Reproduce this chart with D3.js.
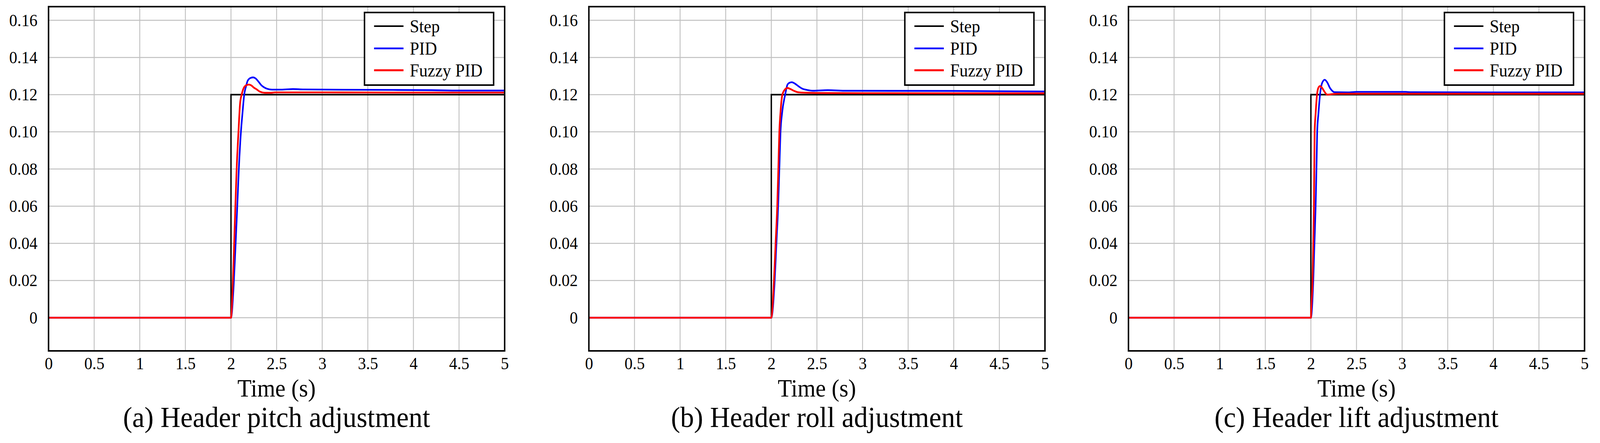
<!DOCTYPE html>
<html>
<head>
<meta charset="utf-8">
<script src="https://cdn.jsdelivr.net/npm/d3@7/dist/d3.min.js"></script>
<style>
  html, body { margin: 0; padding: 0; background: #fff; overflow: hidden; }
  svg { display: block; }
  svg text { font-family: "Liberation Serif", "Times New Roman", serif; fill: #000; }
</style>
</head>
<body>
<script>
// values
const captions = [
  "(a) Header pitch adjustment",
  "(b) Header roll adjustment",
  "(c) Header lift adjustment",
];
const seriesNames = ["Step", "PID", "Fuzzy PID"];
const seriesColors = ["#000000", "#0000ff", "#ff0000"];

const xTicks = [0, 0.5, 1, 1.5, 2, 2.5, 3, 3.5, 4, 4.5, 5];
const xTickLabels = ["0", "0.5", "1", "1.5", "2", "2.5", "3", "3.5", "4", "4.5", "5"];
const yTicks = [0, 0.02, 0.04, 0.06, 0.08, 0.1, 0.12, 0.14, 0.16];
const yTickLabels = ["0", "0.02", "0.04", "0.06", "0.08", "0.10", "0.12", "0.14", "0.16"];

// step input (same in all three)
const stepTime = [0, 2, 2, 5];
const stepValue = [0, 0, 0.12, 0.12];

// (a) pitch
const pidTimeA = [0, 2, 2.032, 2.051, 2.069, 2.086, 2.109, 2.126, 2.145, 2.165, 2.183, 2.21, 2.242, 2.27, 2.3, 2.33, 2.36, 2.4, 2.45, 2.55, 2.68, 2.8, 3.5, 4.2, 4.5, 5];
const pidValueA = [0, 0, 0.02, 0.04, 0.06, 0.08, 0.1, 0.11, 0.12, 0.1245, 0.1275, 0.1289, 0.1293, 0.1287, 0.1271, 0.1252, 0.124, 0.1231, 0.1227, 0.1227, 0.123, 0.1228, 0.1226, 0.1224, 0.1222, 0.1222];
const fuzzyTimeA = [0, 2, 2.021, 2.035, 2.048, 2.062, 2.082, 2.1, 2.117, 2.142, 2.17, 2.198, 2.225, 2.25, 2.277, 2.317, 2.371, 2.44, 2.48, 3, 4, 5];
const fuzzyValueA = [0, 0, 0.02, 0.04, 0.06, 0.08, 0.1, 0.1155, 0.12, 0.1238, 0.1251, 0.1254, 0.1249, 0.1238, 0.123, 0.1216, 0.121, 0.121, 0.1212, 0.1212, 0.1211, 0.1211];

// (b) roll
const pidTimeB = [0, 2, 2.037, 2.056, 2.075, 2.088, 2.101, 2.118, 2.152, 2.178, 2.2, 2.225, 2.25, 2.28, 2.307, 2.34, 2.384, 2.46, 2.62, 2.8, 4, 5];
const pidValueB = [0, 0, 0.02, 0.04, 0.06, 0.08, 0.1, 0.11, 0.12, 0.1255, 0.1264, 0.1267, 0.1262, 0.1252, 0.1242, 0.1232, 0.1226, 0.1221, 0.1224, 0.1221, 0.122, 0.1217];
const fuzzyTimeB = [0, 2, 2.029, 2.047, 2.065, 2.077, 2.088, 2.1, 2.121, 2.15, 2.178, 2.21, 2.25, 2.29, 2.333, 2.5, 3, 5];
const fuzzyValueB = [0, 0, 0.02, 0.04, 0.06, 0.08, 0.1, 0.11, 0.12, 0.1228, 0.1236, 0.123, 0.122, 0.1213, 0.1211, 0.1209, 0.1208, 0.1207];

// (c) lift
const pidTimeC = [0, 2, 2.026, 2.039, 2.052, 2.061, 2.069, 2.083, 2.1, 2.125, 2.152, 2.18, 2.21, 2.24, 2.256, 2.4, 2.5, 3.04, 3.1, 5];
const pidValueC = [0, 0, 0.02, 0.04, 0.06, 0.08, 0.1, 0.11, 0.12, 0.1265, 0.128, 0.1265, 0.1235, 0.1218, 0.1213, 0.1212, 0.1215, 0.1215, 0.1213, 0.1212];
const fuzzyTimeC = [0, 2, 2.005, 2.018, 2.026, 2.033, 2.037, 2.041, 2.052, 2.067, 2.082, 2.1, 2.12, 2.15, 2.178, 2.22, 2.3, 3, 5];
const fuzzyValueC = [0, 0, 0.006, 0.02, 0.04, 0.06, 0.08, 0.1, 0.11, 0.12, 0.1237, 0.1246, 0.1238, 0.1215, 0.12, 0.1202, 0.1205, 0.1205, 0.1205];

const zip = (ts, vs) => ts.map((t, i) => ({ t: t, v: vs[i] }));

const panels = [
  { caption: captions[0], pid: zip(pidTimeA, pidValueA), fuzzy: zip(fuzzyTimeA, fuzzyValueA) },
  { caption: captions[1], pid: zip(pidTimeB, pidValueB), fuzzy: zip(fuzzyTimeB, fuzzyValueB) },
  { caption: captions[2], pid: zip(pidTimeC, pidValueC), fuzzy: zip(fuzzyTimeC, fuzzyValueC) },
];
const stepData = zip(stepTime, stepValue);

// layout
const width = 4350;
const height = 1135;
const panelLeft = [132, 1601, 3068];
const plotW = 1240;
const plotTop = 17;
const plotBottom = 899;
const serif = '"Liberation Serif", "Times New Roman", serif';

// viewBox so the drawing always fills the window
const svg = d3
  .select("body")
  .append("svg")
  .attr("viewBox", `0 0 ${width} ${height}`)
  .attr("preserveAspectRatio", "none")
  .style("width", "100vw")
  .style("height", "100vh")
  .style("background", "#fff");

const x = d3.scaleLinear().domain([0, 5]).range([0, plotW]);
const y = d3.scaleLinear().domain([-0.01785, 0.16735]).range([plotBottom, plotTop]);

const stepLine = d3
  .line()
  .x((d) => x(d.t))
  .y((d) => y(d.v));
const smoothLine = d3
  .line()
  .x((d) => x(d.t))
  .y((d) => y(d.v))
  .curve(d3.curveMonotoneX);

panels.forEach((p, i) => drawPanel(p, panelLeft[i]));

function drawPanel(p, left) {
  const g = svg.append("g").attr("transform", `translate(${left},0)`);

  // grid
  g.append("g")
    .selectAll("line")
    .data(xTicks)
    .join("line")
    .attr("x1", (d) => x(d))
    .attr("x2", (d) => x(d))
    .attr("y1", plotTop)
    .attr("y2", plotBottom)
    .attr("stroke", "#c0c0c0")
    .attr("stroke-width", 2.4);
  g.append("g")
    .selectAll("line")
    .data(yTicks)
    .join("line")
    .attr("x1", 0)
    .attr("x2", plotW)
    .attr("y1", (d) => y(d))
    .attr("y2", (d) => y(d))
    .attr("stroke", "#c0c0c0")
    .attr("stroke-width", 2.4);

  // curves: step first, then PID, fuzzy on top
  g.append("path")
    .datum(stepData)
    .attr("d", stepLine)
    .attr("fill", "none")
    .attr("stroke", seriesColors[0])
    .attr("stroke-width", 3.8);
  g.append("path")
    .datum(p.pid)
    .attr("d", smoothLine)
    .attr("fill", "none")
    .attr("stroke", seriesColors[1])
    .attr("stroke-width", 4.4)
    .attr("stroke-linejoin", "round");
  g.append("path")
    .datum(p.fuzzy)
    .attr("d", smoothLine)
    .attr("fill", "none")
    .attr("stroke", seriesColors[2])
    .attr("stroke-width", 4.6)
    .attr("stroke-linejoin", "round");

  // frame
  g.append("rect")
    .attr("x", 0)
    .attr("y", plotTop)
    .attr("width", plotW)
    .attr("height", plotBottom - plotTop)
    .attr("fill", "none")
    .attr("stroke", "#000")
    .attr("stroke-width", 4);

  // axes (domain line removed, the frame covers it)
  const xAxis = g
    .append("g")
    .attr("transform", `translate(0,${plotBottom})`)
    .call(
      d3
        .axisBottom(x)
        .tickValues(xTicks)
        .tickFormat((d, i) => xTickLabels[i])
        .tickSize(0)
        .tickPadding(16)
    );
  const yAxis = g.append("g").call(
    d3
      .axisLeft(y)
      .tickValues(yTicks)
      .tickFormat((d, i) => yTickLabels[i])
      .tickSize(0)
      .tickPadding(30)
  );
  [xAxis, yAxis].forEach((a) => {
    a.attr("font-family", serif).attr("font-size", 44);
    a.select(".domain").remove();
    a.selectAll("text")
      .style("font-family", serif)
      .style("font-size", "44px")
      .attr("fill", "#000");
  });

  g.append("text")
    .attr("x", plotW / 2)
    .attr("y", 1016)
    .attr("text-anchor", "middle")
    .style("font-family", serif)
    .style("font-size", "63px")
    .text("Time (s)");

  g.append("text")
    .attr("x", plotW / 2)
    .attr("y", 1094)
    .attr("text-anchor", "middle")
    .style("font-family", serif)
    .style("font-size", "75px")
    .text(p.caption);

  // legend
  const lg = g.append("g").attr("transform", "translate(859,32)");
  lg.append("rect")
    .attr("width", 351)
    .attr("height", 186)
    .attr("fill", "#fff")
    .attr("stroke", "#000")
    .attr("stroke-width", 4);
  const rowY = [35, 92, 148];
  const item = lg
    .selectAll("g.item")
    .data(seriesNames)
    .join("g")
    .attr("class", "item")
    .attr("transform", (d, i) => `translate(0,${rowY[i]})`);
  item
    .append("line")
    .attr("x1", 26)
    .attr("x2", 106)
    .attr("stroke", (d, i) => seriesColors[i])
    .attr("stroke-width", (d, i) => [3.8, 4.4, 4.8][i]);
  item
    .append("text")
    .attr("x", 123)
    .attr("y", 16)
    .style("font-family", serif)
    .style("font-size", "46px")
    .text((d) => d);
}
</script>
</body>
</html>
